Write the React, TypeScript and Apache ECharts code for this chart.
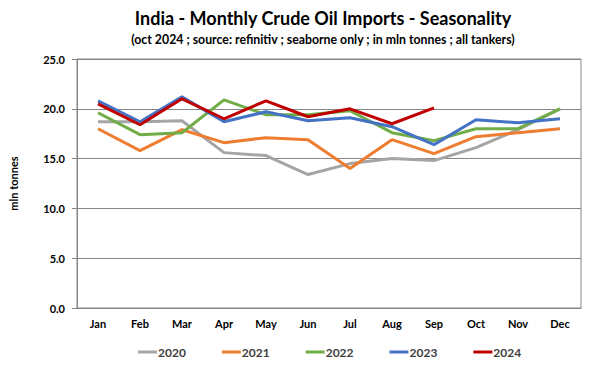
import React, { useEffect, useRef } from "react";
import * as echarts from "echarts";

const months = ["Jan", "Feb", "Mar", "Apr", "May", "Jun", "Jul", "Aug", "Sep", "Oct", "Nov", "Dec"];
const yTicks = [0, 5, 10, 15, 20, 25];
const y2020 = [18.7, 18.7, 18.8, 15.6, 15.3, 13.4, 14.5, 15.0, 14.8, 16.1, 17.9, 20.0];
const y2021 = [18.0, 15.8, 17.9, 16.6, 17.1, 16.9, 14.0, 16.9, 15.5, 17.2, 17.6, 18.0];
const y2022 = [19.6, 17.4, 17.6, 20.9, 19.4, 19.4, 19.8, 17.6, 16.8, 18.0, 18.0, 20.0];
const y2023 = [20.8, 18.7, 21.2, 18.7, 19.7, 18.8, 19.1, 18.2, 16.4, 18.9, 18.6, 19.0];
const y2024 = [20.5, 18.4, 21.0, 19.0, 20.8, 19.2, 20.0, 18.5, 20.1];

const seriesDefs = [
  { name: "2020", data: y2020, color: "#A5A5A5" },
  { name: "2021", data: y2021, color: "#ED7D31" },
  { name: "2022", data: y2022, color: "#70AD47" },
  { name: "2023", data: y2023, color: "#4472C4" },
  { name: "2024", data: y2024, color: "#C00000" },
];

const FONT = "Lato, 'Open Sans', sans-serif";

export default function App() {
  const ref = useRef<HTMLDivElement>(null);
  useEffect(() => {
    if (!ref.current) return;
    const chart = echarts.init(ref.current, null, { renderer: "svg" });
    chart.setOption({
      animation: false,
      backgroundColor: "#ffffff",
      textStyle: { fontFamily: FONT },
      title: {
        text: "India - Monthly Crude Oil Imports - Seasonality",
        subtext: "(oct 2024 ; source: refinitiv ; seaborne only ; in mln tonnes ; all tankers)",
        left: 318,
        textAlign: "center",
        top: 4,
        itemGap: 6,
        textStyle: { fontFamily: FONT, fontSize: 18, fontWeight: "bold", color: "#000" },
        subtextStyle: { fontFamily: FONT, fontSize: 12.3, fontWeight: "bold", color: "#000" },
      },
      legend: {
        bottom: 15,
        left: 133,
        itemGap: 36,
        itemWidth: 19,
        itemHeight: 3,
        icon: "rect",
        textStyle: { fontFamily: FONT, fontSize: 12, fontWeight: "bold", color: "#404040", padding: [0, 0, 0, -4] },
        data: seriesDefs.map((s) => s.name),
      },
      grid: { left: 71, right: 19, top: 59, bottom: 70, show: true, borderColor: "#868686", borderWidth: 1, containLabel: false },
      xAxis: {
        type: "category",
        data: months,
        boundaryGap: true,
        axisLine: { lineStyle: { color: "#868686" } },
        axisTick: { show: false },
        axisLabel: { fontFamily: FONT, fontSize: 11, fontWeight: "bold", color: "#000", margin: 10 },
      },
      yAxis: {
        type: "value",
        min: yTicks[0],
        max: yTicks[yTicks.length - 1],
        interval: 5,
        name: "mln tonnes",
        nameLocation: "middle",
        nameGap: 58,
        nameTextStyle: { fontFamily: FONT, fontSize: 11, fontWeight: "bold", color: "#000" },
        axisLine: { show: true, lineStyle: { color: "#868686" } },
        axisTick: { show: true, length: 5, lineStyle: { color: "#868686" } },
        splitLine: { lineStyle: { color: "#868686", width: 1 } },
        axisLabel: { fontFamily: FONT, fontSize: 11, fontWeight: "bold", color: "#000", margin: 12, formatter: (v: number) => v.toFixed(1) },
      },
      series: seriesDefs.map((s) => ({
        name: s.name,
        type: "line",
        data: s.data,
        symbol: "none",
        color: s.color,
        lineStyle: { width: 3, color: s.color },
      })),
    });
    return () => chart.dispose();
  }, []);
  return <div ref={ref} style={{ width: 600, height: 378, position: "absolute", left: 0, top: 0 }} />;
}
